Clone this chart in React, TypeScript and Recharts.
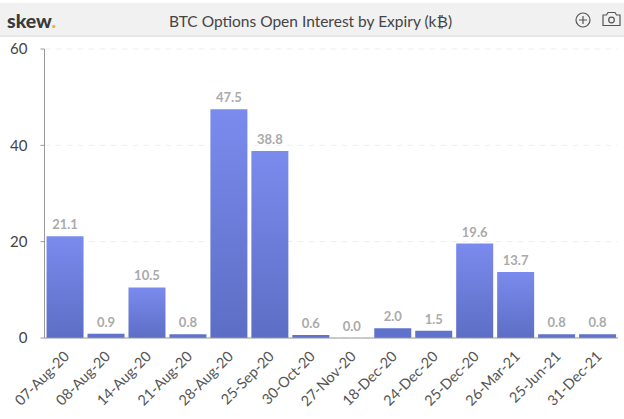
import React from "react";
import { BarChart, Bar, Cell, XAxis, YAxis, CartesianGrid, LabelList } from "recharts";

const expiries = ["07-Aug-20","08-Aug-20","14-Aug-20","21-Aug-20","28-Aug-20","25-Sep-20","30-Oct-20","27-Nov-20","18-Dec-20","24-Dec-20","25-Dec-20","26-Mar-21","25-Jun-21","31-Dec-21"];
const openInterest = [21.1,0.9,10.5,0.8,47.5,38.8,0.6,0.0,2.0,1.5,19.6,13.7,0.8,0.8];
const yTicks = [0,20,40,60];
const chartTitle = "BTC Options Open Interest by Expiry (k₿)";
const rows = expiries.map((expiry, i) => ({ expiry, value: openInterest[i] }));
const FONT = "Lato, sans-serif";

export default function App() {
  return (
    <div style={{ position: "absolute", left: 0, top: 0, width: 624, height: 419, background: "#fff", overflow: "hidden", fontFamily: FONT }}>
      <div style={{ position: "absolute", left: 0, top: 3, width: 624, height: 32, background: "#f1f1f1", borderBottom: "2px solid #e6e6e6" }} />
      <div style={{ position: "absolute", left: 7, top: 8, fontSize: 19.5, fontWeight: 900, color: "#3a3a3a", lineHeight: "26px" }}>
        skew<span style={{ color: "#e8b04a" }}>.</span>
      </div>
      <div style={{ position: "absolute", left: 0, width: 621, top: 8, textAlign: "center", fontSize: 15.5, color: "#444", lineHeight: "26px" }}>{chartTitle}</div>
      <svg style={{ position: "absolute", left: 570, top: 8 }} width="54" height="24" fill="none" stroke="#555" strokeWidth="1.2">
        <circle cx="13" cy="12" r="7" />
        <path d="M13 8v8M9 12h8" />
        <path d="M33 7h3.5l1.5-2.5h7l1.5 2.5h3.5v10.5h-17z" />
        <circle cx="41.5" cy="12" r="2.8" />
      </svg>
      <BarChart width={624} height={419} data={rows} barCategoryGap="5%" margin={{ top: 49, right: 6, bottom: 0, left: 0 }} style={{ position: "absolute", left: 0, top: 0 }}>
        <defs>
          <linearGradient id="barFill" x1="0" y1="0" x2="0" y2="1">
            <stop offset="0%" stopColor="#7a8bee" />
            <stop offset="100%" stopColor="#5c6ec4" />
          </linearGradient>
        </defs>
        <CartesianGrid horizontal vertical={false} stroke="#eeeeee" strokeDasharray="6 5" />
        <XAxis dataKey="expiry" interval={0} height={81} angle={-45} textAnchor="end" tickLine={false} axisLine={{ stroke: "#999" }} tick={{ fontSize: 14.5, fill: "#555", fontFamily: FONT, dx: -2 }} tickMargin={6} />
        <YAxis width={44.5} domain={[0,60]} ticks={yTicks} tickSize={4} tickMargin={13} tickLine={{ stroke: "#999" }} axisLine={{ stroke: "#999" }} tick={{ fontSize: 15, fill: "#444", fontFamily: FONT }} />
        <Bar dataKey="value" fill="url(#barFill)" minPointSize={0.01} isAnimationActive={false}>
          {openInterest.map((v, i) => (
            <Cell key={i} fill={v < 3 ? "#5f72cc" : "url(#barFill)"} />
          ))}
          <LabelList dataKey="value" position="top" offset={7} formatter={(v: number) => v.toFixed(1)} style={{ fontSize: 13, fontWeight: 700, fill: "#aaa", fontFamily: FONT }} />
        </Bar>
      </BarChart>
    </div>
  );
}
